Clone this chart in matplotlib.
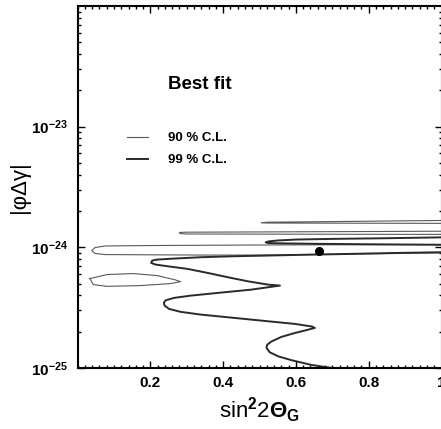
import matplotlib
matplotlib.use('Agg')
import matplotlib.pyplot as plt
from matplotlib.ticker import FixedLocator, MultipleLocator, LogLocator, NullFormatter

# ----- data -----

# 99 % C.L. : long wavy boundary, from the bottom axis up to the right edge
cl99_wave_x = [0.699, 0.643, 0.588, 0.551, 0.528, 0.519, 0.521, 0.533, 0.560, 0.597,
               0.634, 0.652, 0.643, 0.597, 0.523, 0.431, 0.339, 0.283, 0.251, 0.239,
               0.237, 0.242, 0.265, 0.311, 0.385, 0.477, 0.556, 0.523, 0.468, 0.413,
               0.357, 0.302, 0.247, 0.214, 0.202, 0.205, 0.219, 0.265, 0.339, 0.431,
               0.523, 0.616, 0.708, 0.800, 0.892, 1.003]
cl99_wave_y = [1.00e-25, 1.06e-25, 1.16e-25, 1.25e-25, 1.35e-25, 1.47e-25, 1.56e-25, 1.66e-25, 1.81e-25, 1.95e-25,
               2.08e-25, 2.15e-25, 2.21e-25, 2.32e-25, 2.44e-25, 2.60e-25, 2.77e-25, 2.92e-25, 3.09e-25, 3.29e-25,
               3.46e-25, 3.64e-25, 3.81e-25, 3.98e-25, 4.19e-25, 4.46e-25, 4.82e-25, 4.91e-25, 5.23e-25, 5.65e-25,
               6.14e-25, 6.63e-25, 6.97e-25, 7.20e-25, 7.43e-25, 7.77e-25, 7.92e-25, 8.07e-25, 8.28e-25, 8.44e-25,
               8.55e-25, 8.67e-25, 8.77e-25, 8.89e-25, 9.00e-25, 9.11e-25]

# 99 % C.L. : narrow lobe starting near 0.52
cl99_lobe_x = [1.0, 0.85, 0.70, 0.60, 0.55, 0.525, 0.517, 0.525, 0.55, 0.65, 0.80, 1.0]
cl99_lobe_y = [1.21e-24, 1.19e-24, 1.175e-24, 1.16e-24, 1.14e-24, 1.12e-24, 1.10e-24,
               1.085e-24, 1.08e-24, 1.07e-24, 1.06e-24, 1.05e-24]

# 90 % C.L. : big lobe around 1e-24
cl90_big_x = [1.0, 0.699, 0.477, 0.200, 0.076, 0.048, 0.039, 0.048, 0.076, 0.200, 0.339, 0.505, 0.75, 1.0]
cl90_big_y = [1.055e-24, 1.05e-24, 1.045e-24, 1.035e-24, 1.026e-24, 9.96e-25, 9.40e-25,
              8.89e-25, 8.71e-25, 8.67e-25, 8.63e-25, 8.63e-25, 8.80e-25, 9.00e-25]

# 90 % C.L. : small island near 5e-25
cl90_island_x = [0.034, 0.081, 0.154, 0.219, 0.265, 0.283, 0.256, 0.173, 0.081, 0.043, 0.034]
cl90_island_y = [5.51e-25, 5.95e-25, 6.06e-25, 5.83e-25, 5.41e-25, 5.20e-25, 5.01e-25,
                 4.82e-25, 4.75e-25, 4.91e-25, 5.51e-25]

# 90 % C.L. : thin lobe near 1.3e-24
cl90_mid_x = [1.0, 0.60, 0.30, 0.283, 0.279, 0.283, 0.30, 0.60, 1.0]
cl90_mid_y = [1.36e-24, 1.345e-24, 1.335e-24, 1.33e-24, 1.315e-24, 1.30e-24, 1.29e-24, 1.285e-24, 1.28e-24]

# 90 % C.L. : thin lobe near 1.6e-24
cl90_top_x = [1.0, 0.75, 0.52, 0.505, 0.52, 0.75, 1.0]
cl90_top_y = [1.67e-24, 1.64e-24, 1.615e-24, 1.60e-24, 1.59e-24, 1.585e-24, 1.58e-24]

# best fit point
best_x = [0.663]
best_y = [9.40e-25]

x_major = [0.2, 0.4, 0.6, 0.8, 1.0]
x_labels = ['0.2', '0.4', '0.6', '0.8', '1']


def plot_data():

    plt.rcParams['font.family'] = ['Liberation Sans', 'DejaVu Sans']
    plt.rcParams['font.weight'] = 'bold'
    plt.rcParams['mathtext.fontset'] = 'custom'
    plt.rcParams['mathtext.rm'] = 'Liberation Sans:bold'
    plt.rcParams['mathtext.it'] = 'Liberation Sans:bold'
    plt.rcParams['mathtext.bf'] = 'Liberation Sans:bold'

    fig = plt.figure(figsize=(4.41, 4.29), dpi=100)
    ax = fig.add_axes([77.6 / 441, 61.0 / 429, 363.9 / 441, 362.0 / 429])

    # 90 % contours (thin, grey)
    thin = dict(color='#5a5a5a', lw=0.8)
    ax.plot(cl90_big_x, cl90_big_y, label='90 % C.L.', **thin)
    ax.plot(cl90_island_x, cl90_island_y, **thin)
    ax.plot(cl90_mid_x, cl90_mid_y, **thin)
    ax.plot(cl90_top_x, cl90_top_y, **thin)

    # 99 % contours (thicker, dark)
    thick = dict(color='#2a2a2a', lw=1.4)
    ax.plot(cl99_wave_x, cl99_wave_y, label='99 % C.L.', **thick)
    ax.plot(cl99_lobe_x, cl99_lobe_y, **thick)

    ax.plot(best_x, best_y, 'o', color='black', ms=5.5)

    # axes ranges and ticks
    ax.set_yscale('log')
    ax.set_xlim(0, 1)
    ax.set_ylim(1e-25, 1e-22)
    ax.xaxis.set_major_locator(FixedLocator(x_major))
    ax.xaxis.set_minor_locator(MultipleLocator(0.02))
    ax.set_xticklabels(x_labels)
    ax.yaxis.set_major_locator(FixedLocator([1e-25, 1e-24, 1e-23]))
    ax.yaxis.set_minor_locator(LogLocator(base=10, subs=range(2, 10)))
    ax.yaxis.set_minor_formatter(NullFormatter())
    ax.tick_params(which='both', direction='in', top=True, right=True, width=1.0)
    ax.tick_params(which='major', length=5)
    ax.tick_params(which='minor', length=2.5)
    ax.tick_params(axis='x', labelsize=11, pad=6)
    ax.tick_params(axis='y', labelsize=11, pad=7)
    for sp in ax.spines.values():
        sp.set_linewidth(1.5)

    # labels
    ax.set_xlabel(r'sin$^{2}$2$\Theta_{G}$', fontsize=16, labelpad=4)
    ax.set_ylabel('|φΔγ|', fontsize=16)
    ax.yaxis.set_label_coords(-0.131, 0.5)

    # legend and title text inside the plot
    ax.text(0.248, 0.782, 'Best fit', transform=ax.transAxes, fontsize=13.5, va='center')
    ax.legend(loc='upper left', bbox_to_anchor=(0.135, 0.652), frameon=False,
              fontsize=9.5, handlelength=1.6, handletextpad=1.5, labelspacing=0.75,
              borderpad=0, borderaxespad=0)

    fig.savefig('out.png', dpi=100)


def main():
    plot_data()


if __name__ == '__main__':
    main()
